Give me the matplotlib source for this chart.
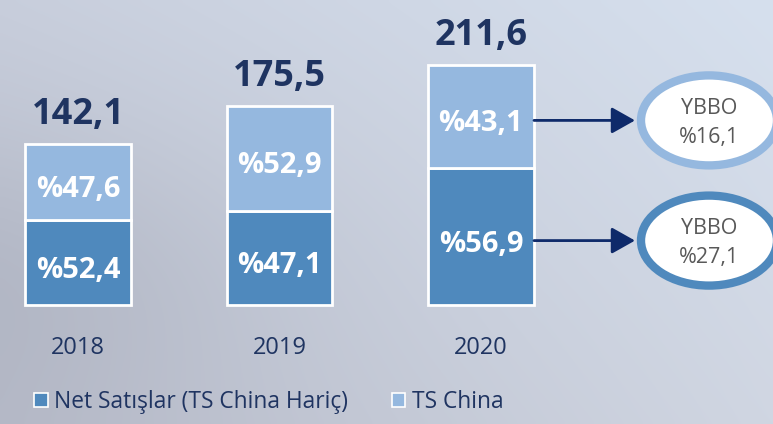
import numpy as np
import matplotlib
matplotlib.use("Agg")
import matplotlib.pyplot as plt
from matplotlib.patches import Ellipse, Patch

plt.rcParams['font.family'] = ['Open Sans', 'DejaVu Sans']

# ---- data ----
years = ["2018", "2019", "2020"]
totals = [142.1, 175.5, 211.6]
net_pct = [52.4, 47.1, 56.9]          # Net Satışlar (TS China Hariç)
china_pct = [47.6, 52.9, 43.1]        # TS China
total_labels = ["142,1", "175,5", "211,6"]
ybbo_labels = ["YBBO\n%16,1", "YBBO\n%27,1"]   # top (TS China), bottom (Net)
series_names = ["Net Satışlar (TS China Hariç)", "TS China"]

# ---- style ----
c_dark = "#4F89BD"
c_light = "#95B8DF"
c_navy = "#1F3461"
c_arrow = "#0E2A6A"

W, H = 773, 424
fig = plt.figure(figsize=(W / 100, H / 100), dpi=100)
ax = fig.add_axes([0, 0, 1, 1])

px_per_cat = 201.5
px_per_val = 1.136
x0_px, base_px = 78, 305
xlim = (-x0_px / px_per_cat, (W - x0_px) / px_per_cat)
ylim = (-(H - base_px) / px_per_val, base_px / px_per_val)
ax.set_xlim(*xlim)
ax.set_ylim(*ylim)
ax.axis("off")

# background gradient
tl = np.array([0xC8, 0xCE, 0xDC]) / 255
tr = np.array([0xD6, 0xE0, 0xEE]) / 255
bl = np.array([0xB8, 0xBC, 0xCA]) / 255
br = np.array([0xD0, 0xD6, 0xE2]) / 255
ny, nx = 100, 200
u = np.linspace(0, 1, nx)[None, :, None]
v = np.linspace(0, 1, ny)[:, None, None]
grad = (1 - v) * ((1 - u) * tl + u * tr) + v * ((1 - u) * bl + u * br)
lm = np.exp(-((np.linspace(0, 1, nx) - 0.0) / 0.35) ** 2)[None, :, None] * \
     np.exp(-((np.linspace(0, 1, ny) - 0.65) / 0.35) ** 2)[:, None, None]
grad = grad - 0.04 * lm
ax.imshow(np.clip(grad, 0, 1), extent=(xlim[0], xlim[1], ylim[0], ylim[1]),
          origin="upper", aspect="auto", zorder=0, interpolation="bicubic")

x = np.arange(len(years))
totals = np.array(totals)
net_vals = totals * np.array(net_pct) / 100
china_vals = totals * np.array(china_pct) / 100
bw = 0.526
lab_shift = 3.5   # optical offset of in-bar labels (value units)

ax.bar(x, net_vals, width=bw, color=c_dark, edgecolor="white", linewidth=2, zorder=2)
ax.bar(x, china_vals, width=bw, bottom=net_vals, color=c_light, edgecolor="white",
       linewidth=2, zorder=2)

for i in range(len(years)):
    ax.text(x[i], net_vals[i] / 2 - lab_shift, f"%{net_pct[i]:.1f}".replace(".", ","),
            ha="center", va="center_baseline", color="white", fontsize=21,
            fontweight="bold", zorder=3)
    ax.text(x[i], net_vals[i] + china_vals[i] / 2 - lab_shift,
            f"%{china_pct[i]:.1f}".replace(".", ","),
            ha="center", va="center_baseline", color="white", fontsize=21,
            fontweight="bold", zorder=3)
    ax.text(x[i], totals[i] + 29, total_labels[i], ha="center", va="center_baseline",
            color=c_navy, fontsize=26, fontweight="bold", zorder=3)
    ax.text(x[i], -35, years[i], ha="center", va="center_baseline",
            color=c_navy, fontsize=17, zorder=3)

# ellipses with arrows for 2020
i = 2
ell_x = (709 - x0_px) / px_per_cat
ell_w = 136 / px_per_cat
ell_h = 90 / px_per_val
ys = [net_vals[i] + china_vals[i] / 2 - lab_shift, net_vals[i] / 2 - lab_shift]
ecols = [c_light, c_dark]
for y, lab, ec in zip(ys, ybbo_labels, ecols):
    e = Ellipse((ell_x, y), ell_w, ell_h, facecolor="white", edgecolor=ec,
                linewidth=6, zorder=3)
    ax.add_patch(e)
    ax.text(ell_x, y - 2, lab, ha="center", va="center", color="#595959",
            fontsize=15.5, linespacing=1.5, zorder=4)
    ax.annotate("", xy=(ell_x - ell_w / 2 - 6 / px_per_cat, y),
                xytext=(x[i] + bw / 2, y),
                arrowprops=dict(arrowstyle="-|>,head_length=0.8,head_width=0.45",
                                color=c_arrow, lw=2, shrinkA=0, shrinkB=0,
                                mutation_scale=18),
                zorder=3)

handles = [Patch(facecolor=c_dark, edgecolor="white", linewidth=1.2),
           Patch(facecolor=c_light, edgecolor="white", linewidth=1.2)]
leg = ax.legend(handles, series_names, loc="center left",
                bbox_to_anchor=(34 / W, 1 - 402 / H), ncol=2, frameon=False,
                fontsize=16.4, handlelength=0.6, handleheight=0.6,
                handletextpad=0.3, columnspacing=1.9, borderaxespad=0,
                borderpad=0)
for t in leg.get_texts():
    t.set_color(c_navy)

fig.savefig("out.png", dpi=100)
